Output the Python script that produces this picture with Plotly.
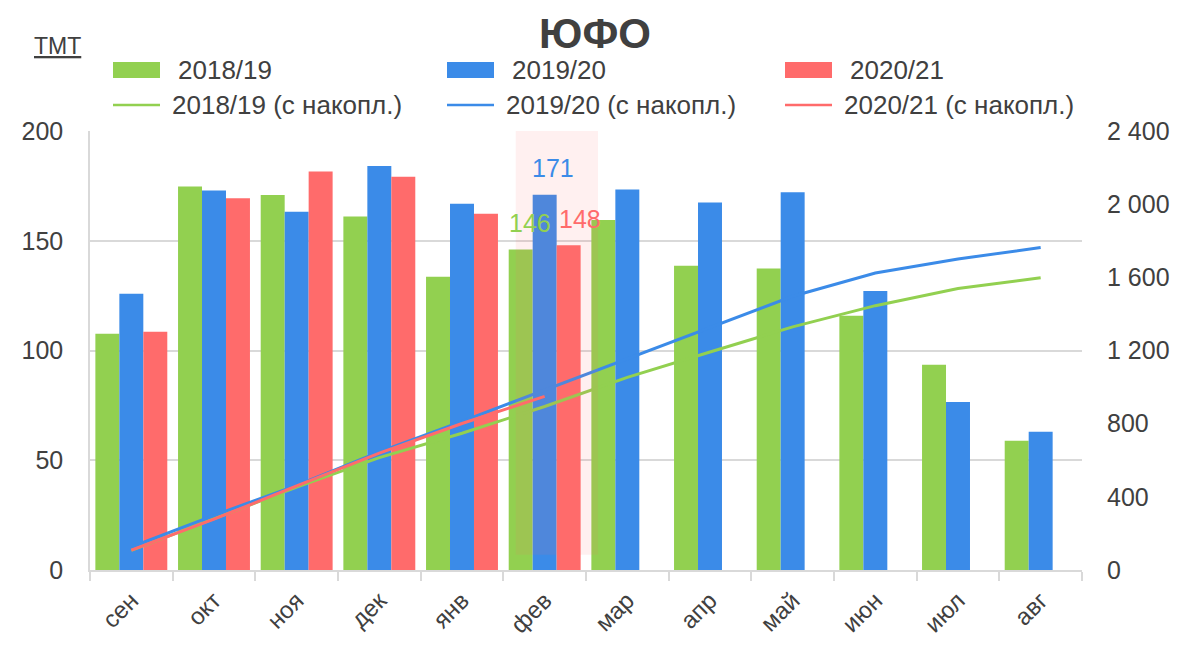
import numpy as np
import plotly.graph_objects as go

months = ["сен", "окт", "ноя", "дек", "янв", "фев", "мар", "апр", "май", "июн", "июл", "авг"]
s1819 = [107.6, 174.7, 170.8, 161.1, 133.6, 146, 159.5, 138.6, 137.4, 115.8, 93.5, 58.9]
s1920 = [125.8, 172.9, 163.2, 184.1, 166.8, 171, 173.3, 167.4, 172.1, 127.1, 76.5, 63.0]
s2021 = [108.5, 169.4, 181.5, 179.2, 162.3, 148]
names = ["2018/19", "2019/20", "2020/21"]
cum_suffix = " (с накопл.)"
colors = ["#92D050", "#3B8BE8", "#FF6B6B"]
left_ticks = [0, 50, 100, 150, 200]
right_ticks = [0, 400, 800, 1200, 1600, 2000, 2400]

FONT = "Liberation Sans, Arial, sans-serif"
TXT = "#404040"
GRID = "#D9D9D9"

OFF = 8  # page body margin
W, H = 1178 - 2 * OFF, 649 - 2 * OFF
# plot area in screen pixels: x 90..1082, y 131..570
L, T = 90 - OFF, 131 - OFF
R = W - (1082 - OFF)
B = H - (570 - OFF)
PW, PH = W - L - R, H - T - B


def px(xs):
    return (xs - OFF - L) / PW


def py(ys):
    return (H - B - (ys - OFF)) / PH


series = [s1819, s1920, s2021]
fig = go.Figure()
for name, vals, col in zip(names, series, colors):
    fig.add_trace(go.Bar(x=months[:len(vals)], y=vals, name=name, marker_color=col,
                         marker_line_width=0, showlegend=False, yaxis="y"))
for name, vals, col in zip(names, series, colors):
    fig.add_trace(go.Scatter(x=months[:len(vals)], y=np.cumsum(vals), name=name + cum_suffix,
                             mode="lines", line=dict(color=col, width=3), showlegend=False,
                             yaxis="y2"))

shapes = []
annotations = []
# highlight around February
shapes.append(dict(type="rect", xref="x", yref="y", x0=4.65, x1=5.645, y0=7, y1=200,
                   fillcolor="rgba(255,107,107,0.10)", line_width=0, layer="above"))

# February value labels
feb = months.index("фев")
for vals, col, xs, dy in [(s1920, colors[1], 8, 12), (s1819, colors[0], -15, 12), (s2021, colors[2], 35, 12)]:
    annotations.append(dict(x=months[feb], y=vals[feb] + dy, xref="x", yref="y", xshift=xs,
                            text=f"{vals[feb]:.0f}", showarrow=False,
                            font=dict(family=FONT, size=25, color=col)))

# manual legend
cols_x = [113, 447, 785]
for i, (name, col) in enumerate(zip(names, colors)):
    x0 = cols_x[i]
    shapes.append(dict(type="rect", xref="paper", yref="paper", x0=px(x0), x1=px(x0 + 47),
                       y0=py(78), y1=py(62), fillcolor=col, line_width=0))
    annotations.append(dict(x=px(x0 + 63), y=py(70), xref="paper", yref="paper", text=name,
                            showarrow=False, xanchor="left", yanchor="middle",
                            font=dict(family=FONT, size=26, color=TXT)))
    shapes.append(dict(type="line", xref="paper", yref="paper", x0=px(x0), x1=px(x0 + 47),
                       y0=py(105), y1=py(105), line=dict(color=col, width=2.5)))
    annotations.append(dict(x=px(x0 + 57), y=py(105), xref="paper", yref="paper",
                            text=name + cum_suffix, showarrow=False, xanchor="left",
                            yanchor="middle", font=dict(family=FONT, size=26, color=TXT)))

annotations.append(dict(x=px(57), y=py(46), xref="paper", yref="paper", text="<u>ТМТ</u>",
                        showarrow=False, xanchor="center", yanchor="middle",
                        font=dict(family=FONT, size=23, color=TXT)))

fig.update_layout(
    width=W, height=H,
    margin=dict(l=L, r=R, t=T, b=B, autoexpand=False),
    paper_bgcolor="white", plot_bgcolor="white",
    separators=", ",
    title=dict(text="<b>ЮФО</b>", x=(595 - OFF) / W, xanchor="center", y=1 - (33 - OFF) / H,
               yanchor="middle", font=dict(family=FONT, size=42, color=TXT)),
    barmode="group", bargap=0.13, bargroupgap=0,
    font=dict(family=FONT, size=25, color=TXT),
    xaxis=dict(type="category", categoryorder="array", categoryarray=months,
               tickangle=-45, showline=True, linecolor=GRID, linewidth=2,
               ticks="outside", tickson="boundaries", ticklen=9, tickcolor=GRID, tickwidth=1.5,
               ticklabelstandoff=5,
               tickfont=dict(family=FONT, size=24, color=TXT), showgrid=False,
               range=[-0.5, 11.5]),
    yaxis=dict(range=[0, 200], tickvals=left_ticks, showgrid=True, gridcolor=GRID, gridwidth=1.5,
               showline=True, linecolor=GRID, linewidth=1.5, zeroline=False,
               ticklabelstandoff=20, tickfont=dict(family=FONT, size=25, color=TXT)),
    yaxis2=dict(range=[0, 2400], tickvals=right_ticks, overlaying="y", side="right",
                showgrid=False, zeroline=False, tickformat=",d", ticklabelstandoff=24,
                tickfont=dict(family=FONT, size=25, color=TXT)),
    shapes=shapes, annotations=annotations,
)

fig.write_html("out.html")
